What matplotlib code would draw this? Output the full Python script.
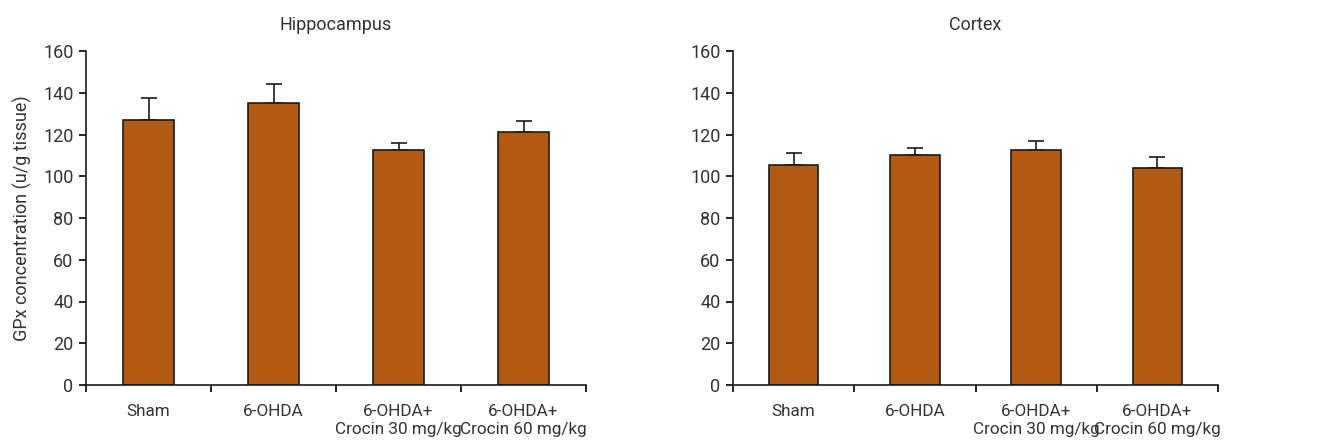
import matplotlib
matplotlib.use("Agg")
import matplotlib.pyplot as plt
import numpy as np

plt.rcParams['font.family'] = ['Roboto', 'DejaVu Sans']

categories = ["Sham", "6-OHDA", "6-OHDA+\nCrocin 30 mg/kg", "6-OHDA+\nCrocin 60 mg/kg"]
hippo_vals = [127.1, 135.1, 112.7, 121.2]
hippo_err = [10.5, 9.2, 3.0, 5.4]
cortex_vals = [105.5, 110.3, 112.6, 103.8]
cortex_err = [5.8, 3.4, 4.4, 5.2]
yticks = [0, 20, 40, 60, 80, 100, 120, 140, 160]

bar_color = "#B25A14"
text_color = "#333333"

fig = plt.figure(figsize=(13.2, 4.47), dpi=100)
W, H = 1320, 447
axes_px = [(86, 586, "Hippocampus", hippo_vals, hippo_err),
           (733, 1218, "Cortex", cortex_vals, cortex_err)]

for i, (x0, x1, title, vals, errs) in enumerate(axes_px):
    y0, y1 = 51, 385
    ax = fig.add_axes([x0 / W, 1 - y1 / H, (x1 - x0) / W, (y1 - y0) / H])
    x = np.arange(len(categories))
    ax.bar(x, vals, width=0.41, color=bar_color, edgecolor="#1a1a1a", linewidth=1.2, zorder=2)
    ax.errorbar(x, vals, yerr=[np.zeros(len(errs)), errs], fmt="none", ecolor="#1a1a1a",
                elinewidth=1.2, capsize=5.5, capthick=1.2, zorder=1)
    ax.set_xlim(-0.5, len(categories) - 0.5)
    ax.set_ylim(0, 160)
    ax.set_yticks(yticks)
    ax.set_yticklabels([str(t) for t in yticks], fontsize=13, color=text_color)
    ax.set_xticks(np.arange(-0.5, len(categories), 1.0))
    ax.set_xticklabels([])
    ax.set_xticks(x, minor=True)
    ax.set_xticklabels(categories, minor=True, fontsize=12.3, color=text_color, linespacing=1.2)
    ax.tick_params(axis="x", which="minor", length=0, pad=14)
    ax.tick_params(axis="x", which="major", length=5, width=1.2, direction="out")
    ax.tick_params(axis="y", length=5, width=1.2, direction="out", pad=4)
    for s in ["top", "right"]:
        ax.spines[s].set_visible(False)
    for s in ["left", "bottom"]:
        ax.spines[s].set_linewidth(1.2)
        ax.spines[s].set_color("#1a1a1a")
    ax.set_title(title, fontsize=13, color=text_color, pad=15)
    if i == 0:
        ax.set_ylabel("GPx concentration (u/g tissue)", fontsize=13, color=text_color, labelpad=8)

fig.savefig("out.png", dpi=100)
